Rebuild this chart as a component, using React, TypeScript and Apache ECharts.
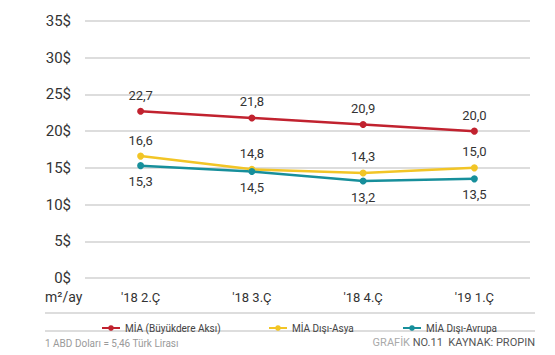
import React, { useEffect, useRef } from "react";
import * as echarts from "echarts";

const categories = ["'18 2.Ç", "'18 3.Ç", "'18 4.Ç", "'19 1.Ç"];
const miaBuyukdere = [22.7, 21.8, 20.9, 20.0];
const miaDisiAsya = [16.6, 14.8, 14.3, 15.0];
const miaDisiAvrupa = [15.3, 14.5, 13.2, 13.5];
const yTicks = [0, 5, 10, 15, 20, 25, 30, 35];
const seriesNames = ["MİA (Büyükdere Aksı)", "MİA Dışı-Asya", "MİA Dışı-Avrupa"];

const FONT = "Roboto, 'Noto Sans', sans-serif";
const RED = "#c1222f";
const YELLOW = "#f2c526";
const TEAL = "#178f9b";

const fmt = (p: any) => String(Number(p.value).toFixed(1)).replace(".", ",");

export default function App() {
  const ref = useRef<HTMLDivElement>(null);
  useEffect(() => {
    const chart = echarts.init(ref.current!, null, { renderer: "svg" });
    const mkSeries = (name: string, data: number[], color: string, pos: string) => ({
      name,
      type: "line",
      data,
      symbol: "circle",
      symbolSize: 7,
      itemStyle: { color },
      lineStyle: { color, width: 2.5 },
      label: {
        show: true,
        position: pos,
        distance: 6,
        formatter: fmt,
        color: "#333",
        fontSize: 13,
        fontFamily: FONT,
      },
    });
    const legendBase = {
      top: 318,
      itemWidth: 18,
      itemHeight: 7,
      itemGap: 5,
      textStyle: { fontSize: 10, color: "#444", fontFamily: FONT },
    };
    chart.setOption({
      animation: false,
      grid: { left: 85, right: 25, top: 21, bottom: 77 },
      xAxis: {
        type: "category",
        data: categories,
        boundaryGap: true,
        axisLine: { show: false },
        axisTick: { show: false },
        axisLabel: { color: "#333", fontSize: 13, fontFamily: FONT, margin: 13 },
      },
      yAxis: {
        type: "value",
        min: yTicks[0],
        max: yTicks[yTicks.length - 1],
        interval: 5,
        axisLine: { show: false },
        axisTick: { show: false },
        splitLine: { lineStyle: { color: "#d2d2d2", width: 1.5 } },
        axisLabel: {
          color: "#333",
          fontSize: 15,
          fontFamily: FONT,
          margin: 14,
          formatter: (v: number) => `${v}$`,
        },
      },
      legend: [
        { ...legendBase, left: 96, data: [seriesNames[0]] },
        { ...legendBase, left: 263, data: [seriesNames[1]] },
        { ...legendBase, left: 397, data: [seriesNames[2]] },
      ],
      series: [
        mkSeries(seriesNames[0], miaBuyukdere, RED, "top"),
        mkSeries(seriesNames[1], miaDisiAsya, YELLOW, "top"),
        mkSeries(seriesNames[2], miaDisiAvrupa, TEAL, "bottom"),
      ],
      graphic: [
        {
          type: "text",
          left: 45,
          top: 290,
          style: { text: "m²/ay", fontSize: 14, fill: "#333", fontFamily: FONT },
        },
        {
          type: "line",
          shape: { x1: 45, y1: 313, x2: 535, y2: 313 },
          style: { stroke: "#d2d2d2", lineWidth: 1.5 },
        },
        {
          type: "line",
          shape: { x1: 45, y1: 331, x2: 535, y2: 331 },
          style: { stroke: "#d2d2d2", lineWidth: 1.5 },
        },
        {
          type: "text",
          left: 45,
          top: 338,
          style: { text: "1 ABD Doları = 5,46 Türk Lirası", fontSize: 10, fill: "#9a9a9a", fontFamily: FONT },
        },
        {
          type: "text",
          right: 20,
          top: 337,
          style: {
            text: "{a|GRAFİK }{b|NO.11  KAYNAK: PROPIN}",
            fontFamily: FONT,
            rich: {
              a: { fontSize: 11, fill: "#aaaaaa", fontFamily: FONT },
              b: { fontSize: 11, fill: "#555555", fontFamily: FONT },
            },
          },
        },
      ],
    });
    return () => chart.dispose();
  }, []);
  return (
    <div
      ref={ref}
      style={{ position: "fixed", left: 0, top: 0, width: 555, height: 355, background: "#fff" }}
    />
  );
}
